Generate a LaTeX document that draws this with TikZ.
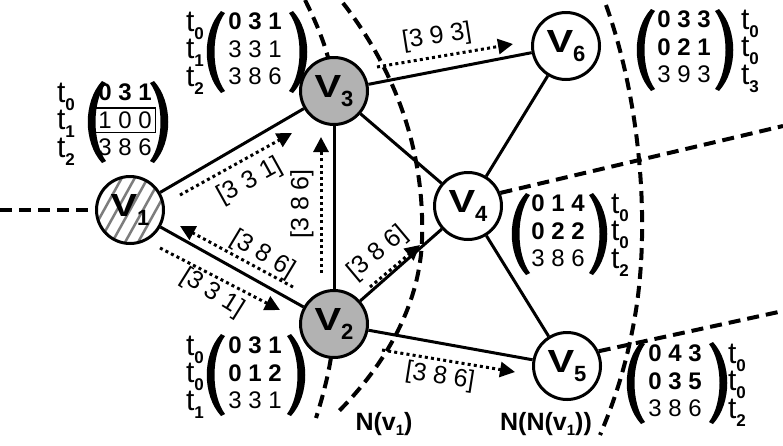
\documentclass[tikz,border=0pt]{standalone}
\usepackage{fontspec}
\setmainfont{Liberation Sans}
\usepackage{graphicx}
\usetikzlibrary{arrows.meta}
\definecolor{nodegray}{RGB}{178,178,178}
\definecolor{hatchgray}{RGB}{125,125,125}
\newcommand{\vname}[1]{\scalebox{1.25}[1]{V}\raisebox{-9pt}{\fontsize{22}{22}\selectfont #1}}
\newcommand{\tsub}[1]{t\raisebox{-8pt}[0pt][0pt]{\fontsize{17}{17}\selectfont\bfseries #1}}
\newcommand{\nsub}[1]{\raisebox{-5pt}[0pt][0pt]{\fontsize{15}{15}\selectfont #1}}
\newcommand{\lpar}[2]{\fill (#1+14,#2-41) .. controls (#1-5,#2-20) and (#1-5,#2+20) .. (#1+14,#2+41) -- (#1+18,#2+39) .. controls (#1+4,#2+20) and (#1+4,#2-20) .. (#1+18,#2-39) -- cycle;}
\newcommand{\rpar}[2]{\fill (#1-14,#2-41) .. controls (#1+5,#2-20) and (#1+5,#2+20) .. (#1-14,#2+41) -- (#1-18,#2+39) .. controls (#1-4,#2+20) and (#1-4,#2-20) .. (#1-18,#2-39) -- cycle;}
\setlength{\fboxsep}{3pt}
\setlength{\fboxrule}{1.2pt}

\begin{document}
\begin{tikzpicture}[x=1pt, y=-1pt,
    vertex/.style={draw, circle, line width=3pt, minimum size=67pt, inner sep=0pt, fill=white, font=\fontsize{32}{32}\selectfont\bfseries},
    seen/.style={vertex, fill=nodegray},
    link/.style={line width=3pt},
    msg/.style={line width=3pt, dash pattern=on 3pt off 3.2pt, -{Triangle[length=15pt,width=15pt]}},
    msglab/.style={font=\fontsize{25}{25}\selectfont, inner sep=0pt},
    bound/.style={line width=4pt, dash pattern=on 12pt off 7pt},
    mat/.style={font=\fontsize{24}{27.5}\selectfont, align=center, inner sep=0pt},
    tcol/.style={font=\fontsize{30}{27.5}\selectfont, align=center, inner sep=0pt},
    nlab/.style={font=\fontsize{25}{25}\selectfont\bfseries, inner sep=0pt},
    hatch/.style={draw=hatchgray, line width=2.5pt}]
    \useasboundingbox (0,0) rectangle (783,445);

    % N(v1) and N(N(v1)) borders (the first one runs along v3--v2)
    \draw[bound] (305,0) .. controls (325,40) and (334,70) .. (334,100);
    \draw[bound] (334,320) .. controls (334,350) and (328,380) .. (316,418);
    \draw[bound] (343,3) .. controls (395,70) and (425,150) .. (422,240) .. controls (420,300) and (390,360) .. (338,412);
    \draw[bound] (606,5) .. controls (640,100) and (650,220) .. (636,310) .. controls (628,360) and (615,400) .. (600,435);

    % hatched source
    \begin{scope}
        \clip (130,210) circle (33);
        \foreach \k in {-5,...,5}
            \draw[hatch] ({130+\k*13-25},255) -- ({130+\k*13+25},165);
    \end{scope}

    \node[vertex, fill=none] (v1) at (130,210) {\vname1};
    \node[seen] (v3) at (334,91) {\vname3};
    \node[seen] (v2) at (334,324) {\vname2};
    \node[vertex] (v4) at (468,206) {\vname4};
    \node[vertex] (v6) at (566,46) {\vname6};
    \node[vertex] (v5) at (567,366) {\vname5};

    \draw[link] (v1) -- (v3);
    \draw[link] (v1) -- (v2);
    \draw[link] (v3) -- (v2);
    \draw[link] (v3) -- (v6);
    \draw[link] (v3) -- (v4);
    \draw[link] (v2) -- (v4);
    \draw[link] (v2) -- (v5);
    \draw[link] (v4) -- (v6);
    \draw[link] (v4) -- (v5);

    \coordinate (w1) at (0,210);
    \coordinate (e4) at (783,126);
    \coordinate (e5) at (783,311);
    \draw[bound] (w1) -- (v1);
    \draw[bound] (v4.22) -- (e4);
    \draw[bound] (v5.25) -- (e5);

    % messages
    \coordinate (a13) at (180,195);
    \coordinate (b13) at (292,133);
    \coordinate (a21) at (293,287);
    \coordinate (b21) at (180,226);
    \coordinate (a12) at (160,248);
    \coordinate (b12) at (280,310);
    \coordinate (a23) at (321,273);
    \coordinate (b23) at (321,137);
    \coordinate (a24) at (370,287);
    \coordinate (b24) at (420,245);
    \coordinate (a36) at (377,67);
    \coordinate (b36) at (513,44);
    \coordinate (a25) at (382,350);
    \coordinate (b25) at (515,372);
    \draw[msg] (a13) -- (b13);
    \draw[msg] (a21) -- (b21);
    \draw[msg] (a12) -- (b12);
    \draw[msg] (a23) -- (b23);
    \draw[msg] (a24) -- (b24);
    \draw[msg] (a36) -- (b36);
    \draw[msg] (a25) -- (b25);
    \node[msglab, rotate=29] (l13) at (250,181) {[3 3 1]};
    \node[msglab, rotate=-31] (l21) at (263,255) {[3 8 6]};
    \node[msglab, rotate=-32] (l12) at (212,293) {[3 3 1]};
    \node[msglab, rotate=90] (l23) at (302,204) {[3 8 6]};
    \node[msglab, rotate=40] (l24) at (378,253) {[3 8 6]};
    \node[msglab, rotate=9] (l36) at (437,37) {[3 9 3]};
    \node[msglab, rotate=-9] (l25) at (440,377) {[3 8 6]};

    % tables
    \node[tcol] (tv1) at (66,120) {\tsub0\\\tsub1\\\tsub2};
    \node[mat] (mv1) at (125,120) {\textbf{0 3 1}\\\fbox{1 0 0}\\3 8 6};
    \lpar{88}{122} \rpar{168}{122}

    \node[tcol] (tv3) at (195,49) {\tsub0\\\tsub1\\\tsub2};
    \node[mat] (mv3) at (255,49) {\textbf{0 3 1}\\3 3 1\\3 8 6};
    \lpar{207}{52} \rpar{307}{52}

    \node[tcol] (tv2) at (195,373) {\tsub0\\\tsub0\\\tsub1};
    \node[mat] (mv2) at (255,373) {\textbf{0 3 1}\\\textbf{0 1 2}\\3 3 1};
    \lpar{207}{375} \rpar{305}{375}

    \node[mat] (mv4) at (558,231) {\textbf{0 1 4}\\\textbf{0 2 2}\\3 8 6};
    \node[tcol] (tv4) at (620,231) {\tsub0\\\tsub0\\\tsub2};
    \lpar{512}{234} \rpar{607}{234}

    \node[mat] (mv6) at (684,47) {\textbf{0 3 3}\\\textbf{0 2 1}\\3 9 3};
    \node[tcol] (tv6) at (750,47) {\tsub0\\\tsub0\\\tsub3};
    \lpar{637}{50} \rpar{733}{50}

    \node[mat] (mv5) at (675,381) {\textbf{0 4 3}\\\textbf{0 3 5}\\3 8 6};
    \node[tcol] (tv5) at (737,381) {\tsub0\\\tsub0\\\tsub2};
    \lpar{627}{383} \rpar{727}{383}

    \node[nlab] (nv1) at (384,424) {N(v\nsub1)};
    \node[nlab] (nnv1) at (546,424) {N(N(v\nsub1))};
\end{tikzpicture}
\end{document}
